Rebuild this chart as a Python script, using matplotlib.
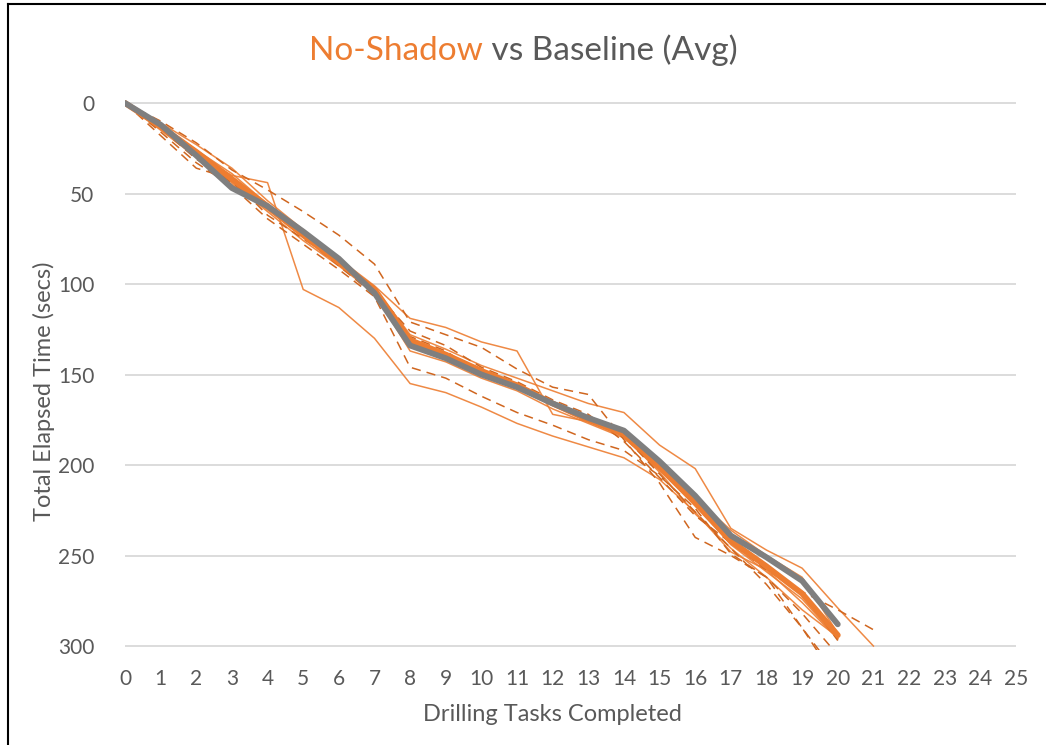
import matplotlib.pyplot as plt
from matplotlib.lines import Line2D

# Drilling tasks completed vs total elapsed time (secs)
tasks = list(range(0, 22))

# thin No-Shadow runs, solid style
solid_runs = [
    [0, 14, 29, 40, 44, 103, 113, 130, 155, 160, 168, 177, 184, 190, 196, 208, 226, 248, 258, 276, 296],
    [0, 11, 23, 36, 54, 70, 86, 101, 119, 124, 132, 137, 172, 176, 183, 200, 218, 236, 250, 262, 293],
    [0, 12, 26, 39, 56, 72, 87, 102, 128, 136, 145, 152, 159, 166, 171, 189, 202, 235, 247, 257, 279, 300],
    [0, 13, 28, 44, 60, 76, 90, 105, 137, 143, 152, 159, 169, 177, 185, 203, 222, 244, 259, 274, 296],
    [0, 15, 30, 45, 59, 74, 89, 104, 133, 140, 149, 157, 167, 176, 184, 204, 227, 246, 262, 280, 295],
]

# thin No-Shadow runs, dashed style
dashed_runs = [
    [0, 10, 22, 37, 48, 60, 73, 89, 121, 128, 135, 147, 157, 161, 186, 210, 240, 250, 262, 290, 316],
    [0, 16, 33, 46, 64, 78, 92, 107, 146, 152, 162, 171, 178, 186, 192, 206, 224, 249, 262, 282, 305],
    [0, 18, 36, 42, 62, 75, 88, 104, 126, 134, 146, 154, 164, 172, 187, 207, 228, 243, 258, 270, 280, 291],
    [0, 14, 31, 44, 58, 74, 90, 106, 129, 137, 150, 156, 167, 175, 184, 205, 226, 246, 266, 290, 320],
    [0, 12, 26, 41, 57, 72, 88, 102, 132, 138, 147, 155, 165, 174, 182, 200, 220, 241, 255, 270, 297],
]

noshadow_avg = [0, 13, 27, 42, 57, 73, 88, 103, 131, 139, 148, 156, 166, 175, 183, 201, 221, 242, 256, 271, 294]
baseline_avg = [0, 12, 29, 47, 57, 71, 86, 105, 134, 141, 150, 157, 166, 174, 181, 198, 217, 239, 251, 264, 288]

x_ticks = list(range(0, 26))
y_ticks = [0, 50, 100, 150, 200, 250, 300]

plt.rcParams['font.family'] = ['Lato', 'DejaVu Sans']
text_col = '#595959'
orange = '#ED7D31'
dark_orange = '#D0661F'
grey = '#7F7F7F'

fig = plt.figure(figsize=(10.46, 7.45), dpi=100)
ax = fig.add_axes([0.1195, 0.128, 0.8518, 0.7386])

for run in solid_runs:
    ax.plot(tasks[:len(run)], run, color=orange, lw=1.1, alpha=0.9)
for run in dashed_runs:
    ax.plot(tasks[:len(run)], run, color=dark_orange, lw=1.1, linestyle=(0, (6, 4)))

ax.plot(tasks[:len(noshadow_avg)], noshadow_avg, color=orange, lw=4.2, solid_capstyle='round')
ax.plot(tasks[:len(baseline_avg)], baseline_avg, color=grey, lw=4.2, solid_capstyle='round')

ax.set_xlim(0, 25)
ax.set_ylim(302, -2)
ax.set_xticks(x_ticks)
ax.set_yticks(y_ticks)
ax.grid(axis='y', color='#D9D9D9', lw=1.3)
ax.set_axisbelow(True)
for s in ax.spines.values():
    s.set_visible(False)
ax.tick_params(length=0, labelsize=15, colors=text_col)
ax.tick_params(axis='y', pad=22)
ax.tick_params(axis='x', pad=14)

ax.set_xlabel('Drilling Tasks Completed', fontsize=17, color=text_col)
ax.set_ylabel('Total Elapsed Time (secs)', fontsize=17, color=text_col)
ax.xaxis.set_label_coords(0.48, -0.098)
ax.yaxis.set_label_coords(-0.079, 0.47)

# two-colour title
t1 = fig.text(0.5, 0.932, 'No-Shadow', color=orange, fontsize=24, ha='right', va='center')
t2 = fig.text(0.5, 0.932, ' vs Baseline (Avg)', color=text_col, fontsize=24, ha='left', va='center')
fig.canvas.draw()
w1 = t1.get_window_extent().width
w2 = t2.get_window_extent().width
shift = (w1 - w2) / 2 / fig.bbox.width
t1.set_x(0.5 + shift)
t2.set_x(0.5 + shift)

# chart frame (left and top edges visible)
fig.add_artist(Line2D([8 / 1046, 8 / 1046], [0, 1 - 4 / 745], color='black', lw=1.5, transform=fig.transFigure))
fig.add_artist(Line2D([8 / 1046, 1], [1 - 4 / 745, 1 - 4 / 745], color='black', lw=1.5, transform=fig.transFigure))

fig.savefig('out.png', dpi=100)
